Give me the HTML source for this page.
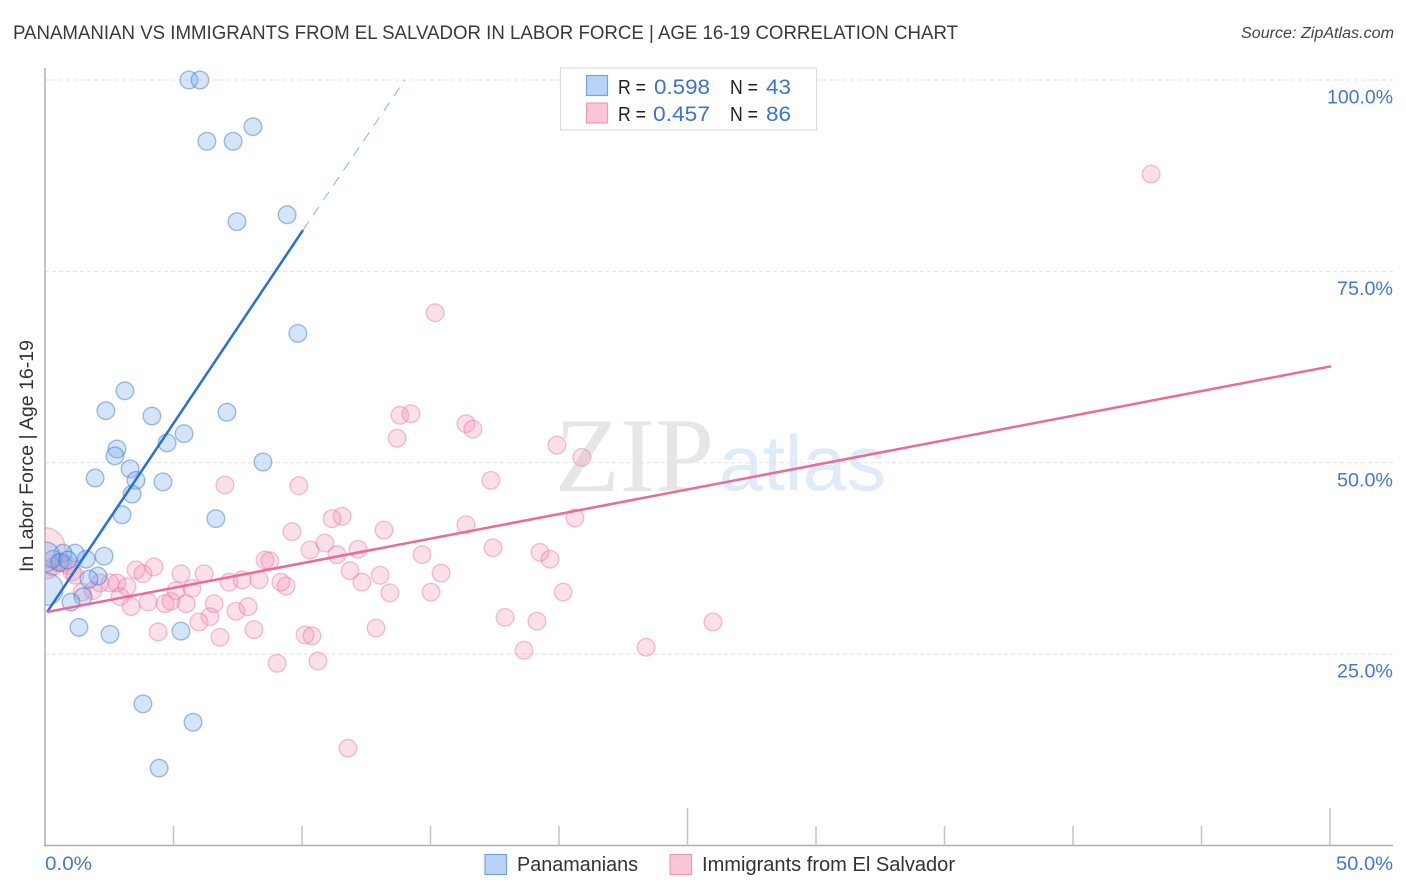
<!DOCTYPE html>
<html>
<head>
<meta charset="utf-8">
<style>
html,body{margin:0;padding:0;background:#fff;}
svg{display:block;font-family:"Liberation Sans",sans-serif;}
</style>
</head>
<body>
<svg id="chart" width="1406" height="892" viewBox="0 0 1406 892" xmlns="http://www.w3.org/2000/svg">
  <text x="13" y="39" font-size="19.5" fill="#3a3a3a" textLength="945" lengthAdjust="spacingAndGlyphs">PANAMANIAN VS IMMIGRANTS FROM EL SALVADOR IN LABOR FORCE | AGE 16-19 CORRELATION CHART</text>
  <text x="1241" y="38" font-size="15.5" font-style="italic" fill="#444" textLength="153" lengthAdjust="spacingAndGlyphs">Source: ZipAtlas.com</text>
  <g id="watermark">
    <text x="555" y="491" font-family="'Liberation Serif',serif" font-size="106" fill="#e6e6e6" textLength="159" lengthAdjust="spacingAndGlyphs">ZIP</text>
    <text x="719" y="490" font-family="'Liberation Sans',sans-serif" font-size="78" fill="#dfeafa" textLength="167" lengthAdjust="spacingAndGlyphs">atlas</text>
  </g>
  <g id="grid"></g>
  <g id="pink-points"></g>
  <g id="blue-points"></g>
  <rect x="0" y="500" width="45" height="140" fill="#fff"/>
  <g id="axes"></g>
  <g id="trends"></g>
  <g id="labels"></g>
  <text transform="translate(33 456) rotate(-90)" font-size="19" fill="#333" text-anchor="middle" textLength="232" lengthAdjust="spacingAndGlyphs">In Labor Force | Age 16-19</text>

  <g>
    <rect x="560.5" y="68" width="256" height="62" fill="#fff" stroke="#ddd" stroke-width="1.2"/>
    <rect x="586.5" y="75.5" width="21" height="20" fill="#b7d4f7" stroke="#74a3e3" stroke-width="1.2"/>
    <rect x="586.5" y="103" width="21" height="20" fill="#fbc6d8" stroke="#f09ab8" stroke-width="1.2"/>
    <text x="618" y="94" font-size="20" fill="#222" textLength="28" lengthAdjust="spacingAndGlyphs">R =</text>
    <text x="654" y="94" font-size="21" fill="#3b74d1" textLength="56" lengthAdjust="spacingAndGlyphs">0.598</text>
    <text x="730" y="94" font-size="20" fill="#222" textLength="28" lengthAdjust="spacingAndGlyphs">N =</text>
    <text x="766" y="94" font-size="21" fill="#3b74d1" textLength="25" lengthAdjust="spacingAndGlyphs">43</text>
    <text x="618" y="121" font-size="20" fill="#222" textLength="28" lengthAdjust="spacingAndGlyphs">R =</text>
    <text x="653" y="121" font-size="21" fill="#3b74d1" textLength="57" lengthAdjust="spacingAndGlyphs">0.457</text>
    <text x="730" y="121" font-size="20" fill="#222" textLength="28" lengthAdjust="spacingAndGlyphs">N =</text>
    <text x="766" y="121" font-size="21" fill="#3b74d1" textLength="25" lengthAdjust="spacingAndGlyphs">86</text>
  </g>

  <g>
    <rect x="485" y="854.5" width="21.5" height="20" fill="#b7d4f7" stroke="#74a3e3" stroke-width="1.2"/>
    <text x="517" y="871" font-size="20" fill="#333" textLength="121" lengthAdjust="spacingAndGlyphs">Panamanians</text>
    <rect x="670" y="854.5" width="21.5" height="20" fill="#fbc6d8" stroke="#f09ab8" stroke-width="1.2"/>
    <text x="702" y="871" font-size="20" fill="#333" textLength="253" lengthAdjust="spacingAndGlyphs">Immigrants from El Salvador</text>
  </g>
</svg>
<script>
// Chart data: all values are percentages
const yTickValues = [25, 50, 75, 100];
const yTickLabels = ["25.0%", "50.0%", "75.0%", "100.0%"];
const xTickValues = [0, 5, 10, 15, 20, 25, 30, 35, 40, 45, 50];
const xEndValues = [0, 50];
const xEndLabels = ["0.0%", "50.0%"];

const blueX = [5.60,6.03,6.30,7.32,8.09,7.47,9.42,9.84,3.11,2.37,4.16,7.08,5.41,4.75,2.80,2.72,3.31,1.95,3.54,4.59,8.48,3.39,3.00,6.65,1.17,0.70,2.30,1.60,0.31,0.00,0.08,2.06,1.71,1.48,1.01,1.32,2.53,5.29,3.81,5.76,4.44,0.58,0.89];
const blueY = [100,100,92.0,92.0,93.9,81.5,82.4,66.9,59.4,56.8,56.1,56.6,53.8,52.6,51.8,50.9,49.2,48.0,47.7,47.5,50.1,45.9,43.2,42.7,38.2,38.2,37.8,37.4,37.4,37.7,33.5,35.2,34.8,32.5,31.8,28.5,27.6,28.0,18.5,16.1,10.1,37.0,37.3];
const blueWeight = [1,1,1,1,1,1,1,1,1,1,1,1,1,1,1,1,1,1,1,1,1,1,1,1,1,1,1,1,1,2.9,3.3,1,1,1,1,1,1,1,1,1,1,1,1];

const pinkX = [43.04,15.18,13.81,14.24,13.70,16.38,16.65,19.92,20.89,17.35,7.00,9.88,11.56,11.17,13.19,16.38,20.62,9.61,10.89,10.31,12.18,17.43,19.26,19.65,14.67,11.36,8.56,8.75,11.87,13.04,15.41,12.33,13.42,15.02,20.16,17.90,19.14,12.88,25.99,23.39,18.64,11.79,3.54,3.81,4.24,5.29,6.19,7.16,7.67,8.33,9.18,9.38,2.80,3.19,2.53,2.92,3.35,4.01,4.67,4.90,5.10,5.72,5.49,6.58,6.42,5.99,7.43,7.90,8.13,6.81,4.40,10.12,10.39,9.03,10.62,1.87,1.44,0.00,0.51,0.70,0.89,1.05,0.31,2.14,1.17,0.12];
const pinkY = [87.7,69.6,56.2,56.4,53.2,55.1,54.4,52.3,50.7,47.7,47.1,47.0,43.0,42.7,41.2,41.9,42.8,41.0,39.5,38.6,38.7,38.9,38.3,37.4,38.0,38.0,37.3,37.2,35.9,35.3,35.6,34.4,33.0,33.1,33.1,29.8,29.3,28.4,29.2,25.9,25.5,12.7,36.0,35.5,36.4,35.5,35.5,34.4,34.7,34.7,34.4,33.9,34.3,33.8,34.3,32.5,31.2,31.8,31.6,31.9,33.3,33.6,31.6,31.6,29.9,29.2,30.6,31.2,28.2,27.2,27.9,27.5,27.4,23.8,24.1,33.3,33.1,38.9,36.9,36.9,36.6,35.7,36.4,34.3,35.3,36.0];
const pinkWeight = [1,1,1,1,1,1,1,1,1,1,1,1,1,1,1,1,1,1,1,1,1,1,1,1,1,1,1,1,1,1,1,1,1,1,1,1,1,1,1,1,1,1,1,1,1,1,1,1,1,1,1,1,1,1,1,1,1,1,1,1,1,1,1,1,1,1,1,1,1,1,1,1,1,1,1,1,1,5.2,1,1,1,1,1,1,1,1];

const blueTrendX = [0.08, 10.04];
const blueTrendY = [30.5, 80.4];
const blueDashX = [10.04, 14.0];
const blueDashY = [80.4, 100];
const pinkTrendX = [0.08, 50.04];
const pinkTrendY = [30.5, 62.6];

const NS = "http://www.w3.org/2000/svg";
function xScale(v) { return 45 + v * 25.7; }
function yScale(v) { return 845.5 - v * 7.655; }
function rScale(w) { return 8.8 * Math.sqrt(w); }
function make(parentId, tag, props, text) {
  const el = document.createElementNS(NS, tag);
  for (const k in props) el.setAttribute(k, props[k]);
  if (text !== undefined) el.textContent = text;
  document.getElementById(parentId).appendChild(el);
  return el;
}

// Horizontal grid lines and y tick labels
yTickValues.forEach(function (v, i) {
  const g = make("grid", "line", {x1: 45, x2: 1393, y1: yScale(v), y2: yScale(v), stroke: "#e2e2e2", "stroke-width": 1, "stroke-dasharray": "4 3"});
  
  
  const t = make("labels", "text", {x: 1393, y: yScale(v) + 23.5, "font-size": 19.5, fill: "#4478d4", "text-anchor": "end", textLength: yTickLabels[i].length === 6 ? 66 : 56, lengthAdjust: "spacingAndGlyphs"}, yTickLabels[i]);
  
  
});

// Axis lines
const yAxisLine = make("axes", "line", {x1: 45, x2: 45, y1: 68, y2: 846, stroke: "#b0b0b0", "stroke-width": 1.5});


const xAxisLine = make("axes", "line", {x1: 44, x2: 1393, y1: 845.5, y2: 845.5, stroke: "#b0b0b0", "stroke-width": 1.4});



// X ticks: taller at every 25 percent
xTickValues.forEach(function (v) {
  if (v === 0) return;
  const top = v % 25 === 0 ? 808 : 826;
  const tick = make("axes", "line", {x1: xScale(v), x2: xScale(v), y1: top, y2: 845.5, stroke: "#c4c4c4", "stroke-width": 1.5});
  
  
});

// X end labels
xEndValues.forEach(function (v, i) {
  const anchorEnd = i === 1;
  const t = make("labels", "text", {x: anchorEnd ? 1336 : xScale(v), y: 870, "font-size": 19.5, fill: "#4478d4", textLength: anchorEnd ? 57 : 47, lengthAdjust: "spacingAndGlyphs"}, xEndLabels[i]);
  
  
});

// Pink scatter
pinkX.forEach(function (v, i) {
  const c = make("pink-points", "circle", {cx: xScale(v), cy: yScale(pinkY[i]), r: rScale(pinkWeight[i]), fill: "rgba(244,143,177,0.28)", stroke: "rgba(232,120,160,0.45)", "stroke-width": 1.4});
  
  
});

// Blue scatter
blueX.forEach(function (v, i) {
  const c = make("blue-points", "circle", {cx: xScale(v), cy: yScale(blueY[i]), r: rScale(blueWeight[i]), fill: "rgba(120,175,240,0.32)", stroke: "rgba(60,120,210,0.48)", "stroke-width": 1.4});
  
  
});

// Trend lines
const blueTrendLine = make("trends", "line", {x1: xScale(blueTrendX[0]), y1: yScale(blueTrendY[0]), x2: xScale(blueTrendX[1]), y2: yScale(blueTrendY[1]), stroke: "#2a6fd6", "stroke-width": 2.5});


const blueDashLine = make("trends", "line", {x1: xScale(blueDashX[0]), y1: yScale(blueDashY[0]), x2: xScale(blueDashX[1]), y2: yScale(blueDashY[1]), stroke: "#8ab0e6", "stroke-width": 1, "stroke-dasharray": "10 8"});


const pinkTrendLine = make("trends", "line", {x1: xScale(pinkTrendX[0]), y1: yScale(pinkTrendY[0]), x2: xScale(pinkTrendX[1]), y2: yScale(pinkTrendY[1]), stroke: "#ea6a98", "stroke-width": 2.5});


</script>
</body>
</html>
